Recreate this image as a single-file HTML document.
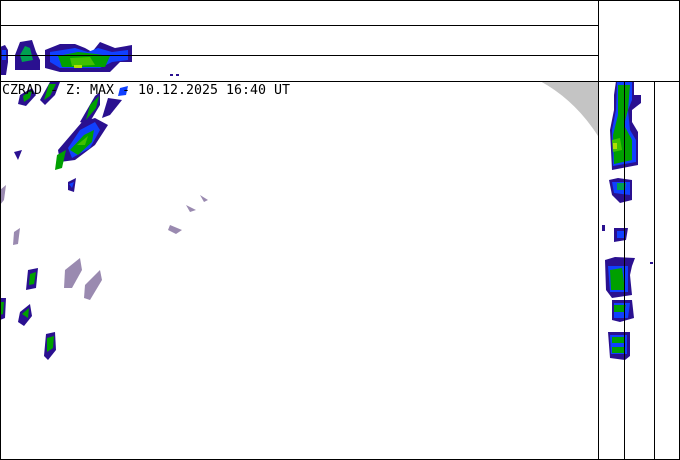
<!DOCTYPE html>
<html><head><style>
html,body{margin:0;padding:0;background:#fff;width:680px;height:460px;overflow:hidden}
svg{display:block}
text{font-family:"DejaVu Sans Mono","Liberation Mono",monospace}
</style></head><body>
<svg width="680" height="460" viewBox="0 0 680 460" xmlns="http://www.w3.org/2000/svg">
<rect x="0" y="0" width="680" height="460" fill="#fff"/>
<path d="M540,81 L598,81 L598,136 Q575,100 540,81 Z" fill="#c4c4c4"/>
<g>
<path d="M0,47 L5,45 L8,50 L8,62 L6,75 L0,75 Z" fill="#2a1090"/>
<path d="M2,50 L6,50 L6,60 L2,60 Z" fill="#1040ff"/>
<path d="M15,55 L20,42 L32,40 L36,52 L40,60 L40,70 L15,70 Z" fill="#2a1090"/>
<path d="M20,55 L25,46 L30,48 L33,60 L22,62 Z" fill="#00a050"/>
<path d="M45,50 L60,44 L75,44 L85,48 L92,52 L100,42 L115,48 L132,45 L132,62 L120,62 L110,72 L60,72 L45,68 Z" fill="#2a1090"/>
<path d="M50,52 L75,48 L88,52 L98,48 L112,52 L128,50 L128,60 L112,62 L100,68 L60,68 L50,62 Z" fill="#1040ff"/>
<path d="M58,56 L78,52 L96,54 L110,56 L105,67 L62,67 Z" fill="#00a000"/>
<path d="M70,58 L90,57 L95,65 L72,66 Z" fill="#40c000"/>
<rect x="74" y="65" width="8" height="3" fill="#b0e000"/>
<rect x="170" y="74" width="3" height="2" fill="#2a1090"/><rect x="176" y="74" width="3" height="2" fill="#2a1090"/>
</g>
<g>
<path d="M50,82 L60,82 L55,95 L45,105 L40,100 Z" fill="#2a1090"/>
<path d="M49,84 L56,84 L50,96 L44,100 Z" fill="#00a000"/>
<path d="M20,95 L32,88 L36,95 L26,106 L18,104 Z" fill="#2a1090"/>
<path d="M23,96 L32,90 L30,98 L24,102 Z" fill="#00a000"/>
<path d="M95,96 L100,92 L100,105 L88,125 L80,122 Z" fill="#2a1090"/>
<path d="M90,105 L99,96 L96,108 L86,120 Z" fill="#00a000"/>
<path d="M108,98 L122,100 L110,115 L102,118 Z" fill="#2a1090"/>
<path d="M82,122 L95,118 L108,125 L95,145 L75,160 L60,162 L58,150 Z" fill="#2a1090"/>
<path d="M68,148 L80,130 L95,122 L100,130 L90,148 L72,158 Z" fill="#1040ff"/>
<path d="M70,150 L84,135 L94,130 L92,142 L78,155 Z" fill="#00a000"/>
<path d="M77,145 L88,136 L85,145 Z" fill="#40c000"/>
<path d="M57,155 L66,150 L62,168 L55,170 Z" fill="#00a000"/>
<path d="M120,88 L128,86 L126,95 L118,96 Z" fill="#1040ff"/>
<path d="M14,152 L22,150 L18,160 Z" fill="#2a1090"/>
<path d="M68,182 L76,178 L74,192 L68,190 Z" fill="#2a1090"/>
<path d="M69,184 L74,182 L72,188 Z" fill="#1040ff"/>
<path d="M28,270 L38,268 L36,288 L26,290 Z" fill="#2a1090"/>
<path d="M30,274 L36,272 L34,284 L29,285 Z" fill="#00a000"/>
<path d="M20,312 L30,304 L32,316 L24,326 L18,322 Z" fill="#2a1090"/>
<path d="M22,314 L29,308 L28,318 Z" fill="#00a000"/>
<path d="M0,298 L6,298 L5,318 L0,320 Z" fill="#2a1090"/>
<path d="M0,302 L4,302 L3,314 L0,315 Z" fill="#00a000"/>
<path d="M46,334 L55,332 L56,350 L48,360 L44,356 Z" fill="#2a1090"/>
<path d="M47,338 L54,336 L53,348 L47,352 Z" fill="#00a000"/>
<g fill="#9a8ab0">
<path d="M65,270 L80,258 L82,270 L72,288 L64,288 Z"/>
<path d="M85,285 L100,270 L102,280 L90,300 L84,298 Z"/>
<path d="M170,225 L182,230 L176,234 L168,230 Z"/>
<path d="M186,205 L196,210 L190,212 Z"/>
<path d="M200,195 L208,200 L204,202 Z"/>
<path d="M14,232 L20,228 L18,244 L13,245 Z"/>
<path d="M0,190 L6,185 L4,200 L0,205 Z"/>
</g>
</g>
<g>
<path d="M616,81 L634,81 L634,95 L641,95 L641,103 L632,110 L632,122 L638,132 L638,165 L612,170 L610,130 L614,110 L614,95 Z" fill="#2a1090"/>
<path d="M617,82 L632,82 L632,100 L628,110 L630,130 L636,140 L636,162 L613,166 L612,130 L616,110 Z" fill="#1040ff"/>
<path d="M618,85 L630,85 L628,110 L624,125 L632,140 L632,160 L614,164 L613,135 L618,115 Z" fill="#00a000"/>
<path d="M612,140 L620,138 L622,150 L613,152 Z" fill="#40c000"/>
<rect x="613" y="143" width="4" height="6" fill="#b0e000"/>
<path d="M609,180 L618,178 L632,180 L632,200 L620,203 L612,195 Z" fill="#2a1090"/>
<path d="M612,182 L630,182 L630,195 L614,193 Z" fill="#1040ff"/>
<path d="M617,183 L626,183 L625,190 L617,190 Z" fill="#00a050"/>
<path d="M614,228 L628,228 L626,240 L614,242 Z" fill="#2a1090"/>
<path d="M617,231 L625,231 L624,238 L617,238 Z" fill="#1040ff"/>
<rect x="602" y="225" width="3" height="6" fill="#2a1090"/>
<rect x="650" y="262" width="3" height="2" fill="#2a1090"/>
<path d="M605,260 L615,257 L635,258 L632,266 L630,275 L632,295 L612,298 L606,290 Z" fill="#2a1090"/>
<path d="M608,266 L628,266 L628,292 L610,292 Z" fill="#1040ff"/>
<path d="M610,270 L622,268 L625,290 L611,290 Z" fill="#00a000"/>
<path d="M612,300 L632,300 L634,318 L620,322 L612,320 Z" fill="#2a1090"/>
<path d="M614,303 L630,303 L628,318 L614,318 Z" fill="#1040ff"/>
<path d="M614,305 L626,305 L624,312 L614,312 Z" fill="#00a000"/>
<path d="M608,332 L630,332 L630,356 L625,360 L610,358 Z" fill="#2a1090"/>
<path d="M610,335 L627,335 L627,354 L611,354 Z" fill="#1040ff"/>
<path d="M612,337 L625,337 L625,343 L612,343 Z M612,347 L624,347 L624,353 L612,353 Z" fill="#00a000"/>
</g>
<g stroke="#000" stroke-width="1" fill="none" shape-rendering="crispEdges">
<rect x="0.5" y="0.5" width="679" height="459"/>
<line x1="0" y1="25.5" x2="598" y2="25.5"/>
<line x1="0" y1="55.5" x2="598" y2="55.5"/>
<line x1="0" y1="81.5" x2="680" y2="81.5"/>
<line x1="598.5" y1="0" x2="598.5" y2="460"/>
<line x1="624.5" y1="81" x2="624.5" y2="460"/>
<line x1="654.5" y1="81" x2="654.5" y2="460"/>
</g>
<text x="2" y="94" font-size="13.3" textLength="288" lengthAdjust="spacingAndGlyphs" fill="#000">CZRAD - Z: MAX - 10.12.2025 16:40 UT</text>
</svg>
</body></html>
